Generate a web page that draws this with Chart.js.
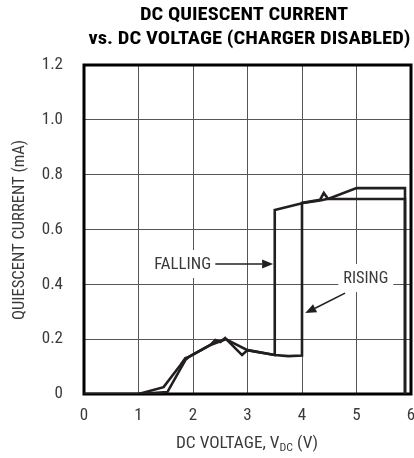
<!DOCTYPE html>
<html>
<head>
<meta charset="utf-8">
<script src="https://cdn.jsdelivr.net/npm/chart.js@4.4.1/dist/chart.umd.min.js"></script>
<style>
html,body{margin:0;padding:0;background:#fff;}
#wrap{width:414px;height:458px;position:relative;}
</style>
</head>
<body>
<div id="wrap"><canvas id="c" width="414" height="458"></canvas></div>
<script>
// ---- data ----
const titleLines = ['DC QUIESCENT CURRENT', 'vs. DC VOLTAGE (CHARGER DISABLED)'];
const yAxisTitle = 'QUIESCENT CURRENT (mA)';
const xAxisTitleMain = 'DC VOLTAGE, V';
const xAxisTitleSub = 'DC';
const xAxisTitleEnd = ' (V)';
const voltageTicks = [0, 1, 2, 3, 4, 5, 6];
const currentTickLabels = ['0', '0.2', '0.4', '0.6', '0.8', '1.0', '1.2'];

const risingVoltage = [0, 1.0, 1.53, 1.86, 1.92, 2.32, 2.41, 2.5, 2.59, 2.9, 3.0, 3.5, 3.75, 4.0, 4.0, 4.33, 4.4, 4.48, 5.89, 5.89];
const risingCurrent = [0, 0, 0.007, 0.124, 0.135, 0.179, 0.197, 0.19, 0.204, 0.142, 0.16, 0.142, 0.138, 0.14, 0.697, 0.708, 0.733, 0.711, 0.711, 0];

const fallingVoltage = [5.89, 5.89, 5.0, 4.5, 4.33, 4.02, 3.5, 3.5, 3.0, 2.6, 2.32, 1.92, 1.86, 1.77, 1.46, 1.0, 0];
const fallingCurrent = [0, 0.751, 0.751, 0.713, 0.706, 0.697, 0.671, 0.142, 0.16, 0.2, 0.179, 0.135, 0.131, 0.106, 0.025, 0, 0];

const fallingLabel = 'FALLING';
const risingLabel = 'RISING';

// ---- font selection (prefer a narrow sans) ----
function pickFont() {
  const c = document.createElement('canvas').getContext('2d');
  const sample = 'QUIESCENT CURRENT 0.123456789';
  const cands = [
    { style: '', family: "'Liberation Sans Narrow'" },
    { style: 'condensed', family: "'Liberation Sans'" },
    { style: '', family: "'Roboto Condensed'" },
    { style: 'condensed', family: "Roboto" },
    { style: 'condensed', family: "'Noto Sans'" },
    { style: 'condensed', family: "'Open Sans'" },
    { style: '', family: "'Open Sans Condensed'" },
    { style: '', family: "'DejaVu Sans Condensed'" },
    { style: 'condensed', family: "'DejaVu Sans'" }
  ];
  c.font = '20px monospace';
  const mono = c.measureText(sample).width;
  for (const cd of cands) {
    c.font = '10px monospace';
    c.font = (cd.style ? cd.style + ' ' : '') + '20px ' + cd.family + ', monospace';
    if (c.font.indexOf('10px') >= 0) continue;
    const w = c.measureText(sample).width;
    if (Math.abs(w - mono) < 0.01) continue;
    if (cd.style) {
      c.font = '20px ' + cd.family + ', monospace';
      const wn = c.measureText(sample).width;
      if (w > wn * 0.96) continue;
    }
    return cd;
  }
  return { style: '', family: "'Liberation Sans', Arial, sans-serif" };
}
const PICK = pickFont();
const FAM = PICK.family + ", 'Liberation Sans', sans-serif";
const STY = PICK.style;
const LINE = '#231f20';
const TXT = '#3a3a3a';

function fnt(weight, size) { return (STY ? STY + ' ' : '') + (weight ? weight + ' ' : '') + size + 'px ' + FAM; }

function pts(xs, ys) { return xs.map((x, i) => ({ x: x, y: ys[i] })); }

// text drawn centred at (cx, cy) and fitted to a target width
function fitText(ctx, text, cx, cy, targetW, font, color, rot) {
  ctx.save();
  ctx.font = font;
  const w = ctx.measureText(text).width;
  ctx.translate(cx, cy);
  if (rot) ctx.rotate(rot);
  ctx.scale(targetW / w, 1);
  ctx.fillStyle = color;
  ctx.textAlign = 'center';
  ctx.textBaseline = 'middle';
  ctx.fillText(text, 0, 0);
  ctx.restore();
}

function arrow(ctx, x1, y1, x2, y2) {
  const ang = Math.atan2(y2 - y1, x2 - x1);
  const L = 11, W = 4.5;
  const bx = x2 - L * Math.cos(ang), by = y2 - L * Math.sin(ang);
  ctx.beginPath();
  ctx.moveTo(x1, y1);
  ctx.lineTo(bx, by);
  ctx.lineWidth = 1.6;
  ctx.strokeStyle = LINE;
  ctx.stroke();
  ctx.beginPath();
  ctx.moveTo(x2, y2);
  ctx.lineTo(bx + W * Math.sin(ang), by - W * Math.cos(ang));
  ctx.lineTo(bx - W * Math.sin(ang), by + W * Math.cos(ang));
  ctx.closePath();
  ctx.fillStyle = LINE;
  ctx.fill();
}

function boxedText(ctx, text, cx, cy, w) {
  ctx.fillStyle = '#fff';
  ctx.fillRect(cx - w / 2 - 5, cy - 14, w + 10, 28);
  fitText(ctx, text, cx, cy + 0.5, w, fnt('', 16), TXT);
}

const decor = {
  id: 'decor',
  beforeDatasetsDraw(chart) {
    const ctx = chart.ctx, a = chart.chartArea;
    const xs = chart.scales.x, ys = chart.scales.y;
    ctx.save();
    ctx.lineWidth = 3;
    ctx.strokeStyle = '#000';
    ctx.strokeRect(a.left, a.top, a.right - a.left, a.bottom - a.top);
    boxedText(ctx, fallingLabel, xs.getPixelForValue(1.81), ys.getPixelForValue(0.474), 57);
    arrow(ctx, xs.getPixelForValue(2.41), ys.getPixelForValue(0.474), xs.getPixelForValue(3.47), ys.getPixelForValue(0.474));
    boxedText(ctx, risingLabel, xs.getPixelForValue(5.17), ys.getPixelForValue(0.423), 45);
    arrow(ctx, xs.getPixelForValue(4.79), ys.getPixelForValue(0.368), xs.getPixelForValue(4.06), ys.getPixelForValue(0.295));
    ctx.restore();
  },
  afterDraw(chart) {
    const ctx = chart.ctx;
    // title
    fitText(ctx, titleLines[0], 244, 15.5, 208, fnt('bold', 18.5), '#000');
    fitText(ctx, titleLines[1], 249.5, 39.5, 322, fnt('bold', 18.5), '#000');
    // y axis title
    fitText(ctx, yAxisTitle, 19.5, 230, 180, fnt('', 16), TXT, -Math.PI / 2);
    // x axis title with subscript, fitted to width
    ctx.save();
    const big = fnt('', 16), small = fnt('', 11);
    ctx.font = big; const w1 = ctx.measureText(xAxisTitleMain).width; const w3 = ctx.measureText(xAxisTitleEnd).width;
    ctx.font = small; const w2 = ctx.measureText(xAxisTitleSub).width;
    const total = w1 + w2 + w3, target = 142, sx = target / total;
    ctx.translate(247 - target / 2, 448);
    ctx.scale(sx, 1);
    ctx.fillStyle = TXT;
    ctx.textBaseline = 'alphabetic';
    ctx.textAlign = 'left';
    ctx.font = big; ctx.fillText(xAxisTitleMain, 0, 0);
    ctx.font = small; ctx.fillText(xAxisTitleSub, w1, 3);
    ctx.font = big; ctx.fillText(xAxisTitleEnd, w1 + w2, 0);
    ctx.restore();
  }
};

new Chart(document.getElementById('c'), {
  type: 'scatter',
  data: {
    datasets: [
      { label: risingLabel, data: pts(risingVoltage, risingCurrent), showLine: true, borderColor: LINE, borderWidth: 2.6, pointRadius: 0, fill: false, tension: 0 },
      { label: fallingLabel, data: pts(fallingVoltage, fallingCurrent), showLine: true, borderColor: LINE, borderWidth: 2.6, pointRadius: 0, fill: false, tension: 0 }
    ]
  },
  options: {
    responsive: false,
    animation: false,
    devicePixelRatio: 1,
    layout: { padding: { top: 65, right: 3, left: 0, bottom: 0 } },
    plugins: { legend: { display: false }, tooltip: { enabled: false }, title: { display: false } },
    scales: {
      x: {
        type: 'linear', min: voltageTicks[0], max: voltageTicks[voltageTicks.length - 1],
        afterBuildTicks(s) { s.ticks = voltageTicks.map(v => ({ value: v })); },
        ticks: { callback: v => String(v), font: { family: FAM, style: STY || undefined, size: 17 }, color: TXT, padding: 12, maxRotation: 0 },
        grid: { color: '#555', lineWidth: 1, drawTicks: false },
        border: { display: false },
        afterFit(s) { s.height = 64; s.paddingLeft = 0; s.paddingRight = 0; }
      },
      y: {
        type: 'linear', min: 0, max: 1.2,
        afterBuildTicks(s) { s.ticks = currentTickLabels.map(t => ({ value: parseFloat(t) })); },
        ticks: { callback: (v) => currentTickLabels[Math.round(v / 0.2)], font: { family: FAM, style: STY || undefined, size: 17 }, color: TXT, padding: 21 },
        grid: { color: '#555', lineWidth: 1, drawTicks: false },
        border: { display: false },
        afterFit(s) { s.width = 84; s.paddingTop = 0; s.paddingBottom = 0; }
      }
    }
  },
  plugins: [decor]
});
</script>
</body>
</html>
